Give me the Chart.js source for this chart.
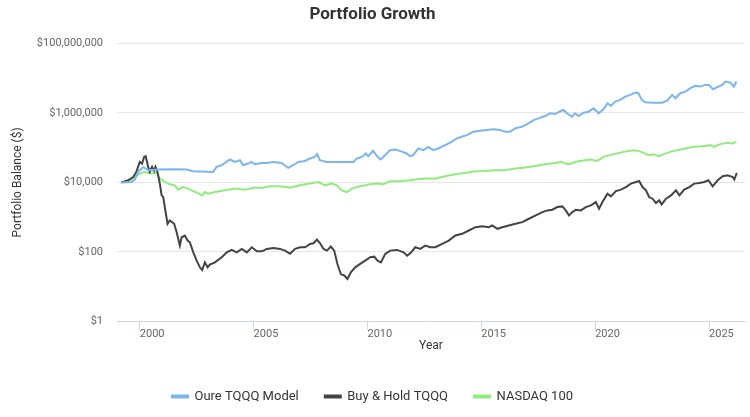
<!DOCTYPE html>
<html>
<head>
<meta charset="utf-8">
<script src="https://cdn.jsdelivr.net/npm/chart.js@4.4.1/dist/chart.umd.min.js"></script>
<style>
  html, body { margin: 0; padding: 0; background: #fff; }
  #wrap { width: 750px; height: 417px; }
</style>
</head>
<body>
<div id="wrap"><canvas id="growthChart" width="750" height="417"></canvas></div>
<script>
// values (dates as decimal years, balances in $)
const modelYears = [1999.19, 1999.64, 1999.78, 1999.93, 2000.15, 2000.37, 2000.80, 2001.54, 2002.05, 2002.34,
  2003.22, 2003.37, 2003.59, 2003.96, 2004.18, 2004.40, 2004.54, 2004.76, 2004.91, 2005.05,
  2005.35, 2005.57, 2005.86, 2006.23, 2006.52, 2006.74, 2006.96, 2007.25, 2007.47, 2007.69,
  2007.79, 2007.91, 2008.21, 2009.38, 2009.53, 2009.75, 2009.93, 2010.03, 2010.25, 2010.47,
  2010.58, 2010.77, 2010.99, 2011.21, 2011.43, 2011.72, 2011.87, 2012.01, 2012.23, 2012.45,
  2012.67, 2012.89, 2013.11, 2013.41, 2013.70, 2013.92, 2014.14, 2014.36, 2014.65, 2014.95,
  2015.24, 2015.53, 2015.82, 2016.04, 2016.26, 2016.48, 2016.78, 2017.07, 2017.29, 2017.51,
  2017.80, 2018.02, 2018.24, 2018.42, 2018.61, 2018.76, 2018.98, 2019.12, 2019.27, 2019.49,
  2019.71, 2019.93, 2020.15, 2020.37, 2020.54, 2020.69, 2020.88, 2021.10, 2021.32, 2021.54,
  2021.76, 2021.90, 2022.05, 2022.20, 2022.57, 2022.94, 2023.16, 2023.38, 2023.52, 2023.74,
  2023.96, 2024.18, 2024.40, 2024.62, 2024.84, 2024.99, 2025.18, 2025.36, 2025.58, 2025.72,
  2025.94, 2026.09, 2026.20];
const modelValues = [10000, 10280, 12050, 20000, 27900, 22400, 23400, 23900, 23400, 20900,
  20000, 27900, 31200, 45600, 38900, 43500, 31200, 34900, 38900, 33400,
  36400, 36400, 38900, 36400, 26100, 31200, 38900, 41500, 48700, 54200,
  64900, 43500, 38900, 38900, 48700, 54200, 68000, 56800, 80900, 52100,
  45600, 60700, 84700, 88700, 80900, 68000, 56800, 60700, 94800, 84700,
  105500, 84700, 94800, 118000, 147000, 184500, 205000, 229600, 286000, 306000,
  321000, 336000, 321000, 286000, 286000, 359000, 399000, 500000, 623000, 698000,
  813000, 973000, 929000, 1083000, 1213000, 973000, 777000, 973000, 813000, 1014000,
  1083000, 1358000, 973000, 1271000, 1893000, 1582000, 2107000, 2360000, 2940000, 3290000,
  3840000, 3680000, 2360000, 2024000, 1972000, 1972000, 2253000, 3290000, 2642000, 3680000,
  4100000, 5140000, 5990000, 5720000, 6400000, 6400000, 4810000, 5490000, 6400000, 7980000,
  7460000, 5720000, 7980000];

const holdYears = [1999.19, 1999.49, 1999.71, 1999.85, 2000.00, 2000.10, 2000.19, 2000.26, 2000.37, 2000.44,
  2000.54, 2000.63, 2000.69, 2000.78, 2000.88, 2000.96, 2001.03, 2001.10, 2001.22, 2001.32,
  2001.51, 2001.62, 2001.76, 2001.84, 2001.98, 2002.10, 2002.20, 2002.35, 2002.50, 2002.64,
  2002.74, 2002.86, 2002.98, 2003.08, 2003.30, 2003.60, 2003.82, 2004.04, 2004.26, 2004.48,
  2004.70, 2004.92, 2005.14, 2005.36, 2005.58, 2005.87, 2006.16, 2006.38, 2006.60, 2006.82,
  2007.04, 2007.26, 2007.48, 2007.63, 2007.78, 2007.92, 2008.07, 2008.22, 2008.39, 2008.54,
  2008.68, 2008.83, 2008.98, 2009.12, 2009.27, 2009.46, 2009.68, 2009.90, 2010.12, 2010.30,
  2010.44, 2010.59, 2010.78, 2011.00, 2011.30, 2011.59, 2011.74, 2011.88, 2012.10, 2012.32,
  2012.54, 2012.76, 2012.98, 2013.28, 2013.57, 2013.86, 2014.16, 2014.45, 2014.74, 2015.04,
  2015.33, 2015.48, 2015.70, 2015.92, 2016.21, 2016.50, 2016.80, 2017.09, 2017.39, 2017.68,
  2017.90, 2018.12, 2018.34, 2018.56, 2018.71, 2018.85, 2019.00, 2019.15, 2019.37, 2019.59,
  2019.81, 2020.03, 2020.17, 2020.32, 2020.54, 2020.69, 2020.91, 2021.13, 2021.35, 2021.57,
  2021.79, 2021.93, 2022.08, 2022.23, 2022.37, 2022.52, 2022.67, 2022.81, 2022.92, 2023.11,
  2023.33, 2023.55, 2023.70, 2023.91, 2024.13, 2024.35, 2024.57, 2024.79, 2024.97, 2025.16,
  2025.38, 2025.60, 2025.82, 2026.04, 2026.11, 2026.22];
const holdValues = [10000, 11500, 14300, 20000, 38900, 34900, 54200, 56800, 27900, 20000,
  27900, 21300, 27900, 20000, 9230, 4240, 3790, 1950, 645, 803,
  645, 368, 152, 264, 296, 212, 189, 97, 56, 36,
  30, 50, 36, 43, 50, 70, 97, 114, 97, 122,
  97, 136, 104, 104, 122, 130, 122, 109, 88, 122,
  136, 136, 170, 177, 227, 177, 122, 109, 142, 109,
  45, 23, 21, 16.6, 25.7, 36, 45, 56, 70, 73,
  56, 50, 88, 109, 114, 97, 78, 91, 136, 122,
  152, 136, 136, 170, 212, 296, 331, 413, 514, 549,
  514, 576, 462, 514, 576, 645, 717, 899, 1120, 1395,
  1563, 1636, 1950, 2038, 1563, 1120, 1395, 1636, 1563, 1950,
  2180, 2715, 1750, 2715, 4750, 3965, 5640, 6190, 7360, 9230,
  10280, 10970, 7360, 5910, 3790, 3400, 2540, 3040, 2330, 3400,
  4240, 5910, 4240, 6190, 7360, 9230, 9610, 10280, 11500, 7710,
  11500, 15000, 16000, 14300, 12050, 18700];

const nasdaqYears = [1999.19, 1999.49, 1999.78, 2000.00, 2000.22, 2000.51, 2000.73, 2000.88, 2001.10, 2001.32,
  2001.54, 2001.68, 2001.90, 2002.12, 2002.34, 2002.56, 2002.74, 2002.86, 2003.00, 2003.30,
  2003.74, 2004.18, 2004.62, 2005.05, 2005.35, 2005.71, 2006.15, 2006.59, 2007.03, 2007.47,
  2007.84, 2008.13, 2008.43, 2008.65, 2008.87, 2009.09, 2009.31, 2009.67, 2010.11, 2010.40,
  2010.69, 2010.99, 2011.43, 2011.87, 2012.09, 2012.53, 2012.97, 2013.41, 2013.85, 2014.29,
  2014.73, 2015.16, 2015.60, 2016.04, 2016.48, 2016.92, 2017.36, 2017.80, 2018.24, 2018.53,
  2018.75, 2018.97, 2019.12, 2019.34, 2019.78, 2020.08, 2020.37, 2020.81, 2021.25, 2021.69,
  2021.91, 2022.13, 2022.35, 2022.57, 2022.79, 2023.01, 2023.30, 2023.59, 2023.96, 2024.33,
  2024.69, 2025.06, 2025.20, 2025.50, 2025.79, 2026.01, 2026.20];
const nasdaqValues = [10000, 10970, 14300, 17960, 20000, 17960, 18700, 12880, 10280, 8810,
  8240, 6190, 7360, 6620, 5640, 4940, 4240, 5280, 4750, 5280,
  5910, 6620, 6190, 7080, 6890, 7710, 7710, 7080, 8240, 9230,
  10280, 8240, 9230, 8240, 5910, 5280, 6620, 7710, 8810, 9230,
  8810, 10760, 10970, 11500, 12050, 12880, 12880, 15000, 17140, 18700,
  20900, 21300, 22400, 22400, 25060, 26800, 29800, 33400, 36400, 38900,
  33400, 34900, 38900, 41500, 45600, 41500, 54200, 64900, 75600, 84700,
  80900, 70800, 60700, 64900, 56800, 64900, 75600, 84700, 94800, 105500,
  110500, 118000, 105500, 126200, 137700, 132200, 147000];

const seriesNames = ['Oure TQQQ Model', 'Buy & Hold TQQQ', 'NASDAQ 100'];
const seriesColors = ['#7cb5ec', '#434348', '#90ed7d'];
const yearTicks = [2000, 2005, 2010, 2015, 2020, 2025];
const balanceTicks = [1, 100, 10000, 1000000, 100000000];

const toPoints = (xs, ys) => xs.map((x, i) => ({ x: x, y: ys[i] }));
const seriesData = [
  toPoints(modelYears, modelValues),
  toPoints(holdYears, holdValues),
  toPoints(nasdaqYears, nasdaqValues)
];

Chart.defaults.font.family = 'Roboto, "Noto Sans", sans-serif';

new Chart(document.getElementById('growthChart').getContext('2d'), {
    type: 'line',
    data: {
        datasets: seriesNames.map((name, i) => ({
            label: name,
            data: seriesData[i],
            borderColor: seriesColors[i],
            backgroundColor: seriesColors[i],
            borderWidth: 2,
            pointRadius: 0,
            tension: 0,
            fill: false
        }))
    },
    options: {
        responsive: false,
        animation: false,
        layout: { padding: { left: 0, right: 5, top: 0, bottom: 4 } },
        plugins: {
            title: {
                display: true,
                text: 'Portfolio Growth',
                color: '#333333',
                font: { size: 17, weight: 'bold' },
                padding: { top: 5, bottom: 18 }
            },
            legend: {
                position: 'bottom',
                labels: {
                    boxWidth: 16,
                    boxHeight: 2,
                    color: '#333333',
                    font: { size: 13 },
                    padding: 26
                }
            },
            tooltip: { enabled: false }
        },
        scales: {
            x: {
                type: 'linear',
                min: 1999.0,
                max: 2026.58,
                afterBuildTicks: scale => { scale.ticks = yearTicks.map(v => ({ value: v })); },
                ticks: {
                    align: 'start',
                    color: '#666666',
                    font: { size: 11 },
                    padding: -2,
                    maxRotation: 0,
                    callback: v => String(v)
                },
                grid: {
                    drawOnChartArea: false,
                    drawTicks: true,
                    tickLength: 8,
                    color: '#ccd6eb'
                },
                border: { display: true, color: '#ccd6eb' },
                title: {
                    display: true,
                    text: 'Year',
                    color: '#333333',
                    font: { size: 12 },
                    padding: { top: 0, bottom: 11 }
                }
            },
            y: {
                type: 'logarithmic',
                min: 1,
                max: 100000000,
                afterBuildTicks: scale => { scale.ticks = balanceTicks.map(v => ({ value: v })); },
                afterFit: scale => { scale.width = 117; },
                ticks: {
                    color: '#666666',
                    font: { size: 11 },
                    padding: 14,
                    callback: v => '$' + Number(v).toLocaleString('en-US')
                },
                grid: {
                    color: '#e6e6e6',
                    drawTicks: false
                },
                border: { display: false },
                title: {
                    display: true,
                    text: 'Portfolio Balance ($)',
                    color: '#333333',
                    font: { size: 12 },
                    padding: { top: 11, bottom: 0 }
                }
            }
        }
    }
});
</script>
</body>
</html>
